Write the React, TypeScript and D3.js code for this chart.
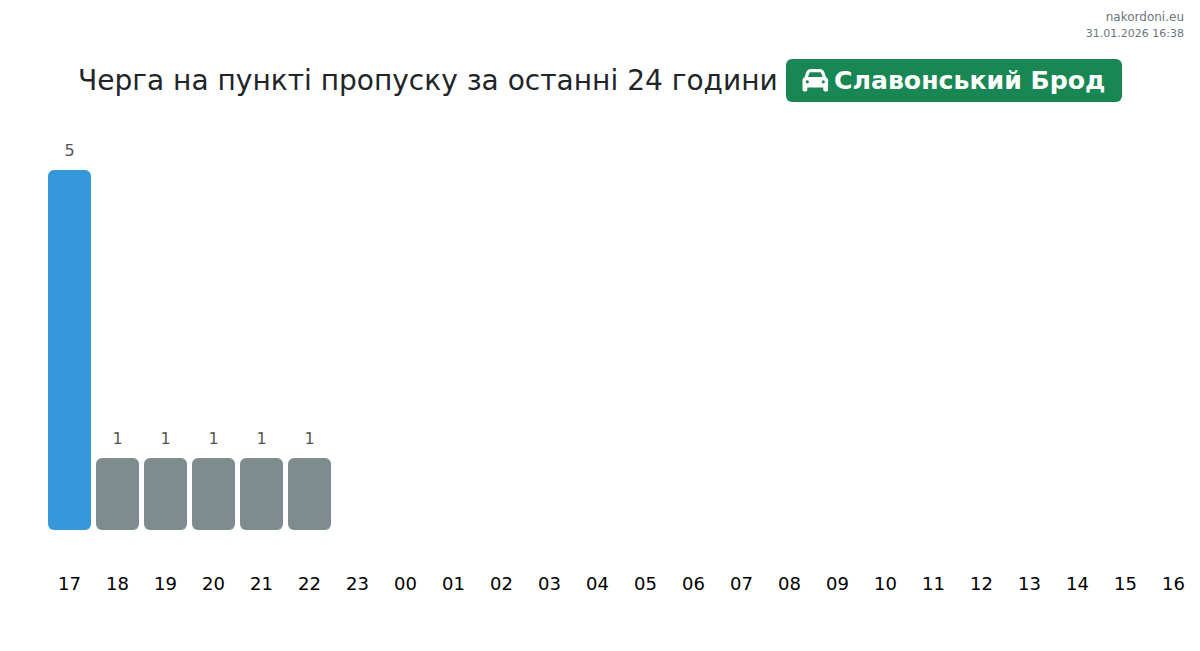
import React from "react";
import * as d3 from "d3";

const hours = ["17","18","19","20","21","22","23","00","01","02","03","04","05","06","07","08","09","10","11","12","13","14","15","16"];
const values = [5,1,1,1,1,1,0,0,0,0,0,0,0,0,0,0,0,0,0,0,0,0,0,0];
const barColors = ["#3498db","#7f8c8d","#7f8c8d","#7f8c8d","#7f8c8d","#7f8c8d"];
const titleText = "Черга на пункті пропуску за останні 24 години";
const badgeText = "Славонський Брод";
const siteText = "nakordoni.eu";
const stampText = "31.01.2026 16:38";

const W = 1200, H = 651;
const FONT = "'DejaVu Sans', sans-serif";
const CAR = "M135.2 117.4L109.1 192H402.9l-26.1-74.6C372.3 104.6 360.2 96 346.6 96H165.4c-13.6 0-25.7 8.6-30.2 21.4zM39.6 196.8L74.8 96.3C88.3 57.8 124.6 32 165.4 32H346.6c40.8 0 77.1 25.8 90.6 64.3l35.2 100.5c23.2 9.6 39.6 32.5 39.6 59.2V400v48c0 17.7-14.3 32-32 32H448c-17.7 0-32-14.3-32-32V400H96v48c0 17.7-14.3 32-32 32H32c-17.7 0-32-14.3-32-32V400 256c0-26.7 16.4-49.6 39.6-59.2zM128 288a32 32 0 1 0 -64 0 32 32 0 1 0 64 0zm288 32a32 32 0 1 0 0-64 32 32 0 1 0 0 64z";

const x = d3.scaleBand<string>().domain(hours).range([45.5, 1197.5]).paddingInner(5 / 48).paddingOuter(2.5 / 48);
const y = d3.scaleLinear().domain([0, 5]).range([530, 170]);

export default function App() {
  return (
    <svg width={W} height={H} viewBox={`0 0 ${W} ${H}`} style={{ position: "absolute", left: 0, top: 0, background: "#fff" }}>
      <text x={1184} y={21} textAnchor="end" fontFamily={FONT} fontSize={12} fill="#6c757d">{siteText}</text>
      <text x={1184} y={37} textAnchor="end" fontFamily={FONT} fontSize={11} fill="#6c757d">{stampText}</text>
      <text x={78} y={90} fontFamily={FONT} fontSize={28.04} fill="#212529">{titleText}</text>
      <rect x={786} y={59} width={336} height={43} rx={6} fill="#198754" />
      <path d={CAR} fill="#fff" transform="translate(802.5,67.4) scale(0.05)" />
      <text x={834} y={89} fontFamily={FONT} fontSize={25.2} fontWeight={700} fill="#fff">{badgeText}</text>
      {values.map((v, i) => v > 0 && (
        <g key={hours[i]}>
          <rect x={x(hours[i])} y={y(v)} width={x.bandwidth()} height={y(0) - y(v)} rx={6} fill={barColors[i]} />
          <text x={x(hours[i])! + x.bandwidth() / 2} y={y(v) - 14} textAnchor="middle" fontFamily={FONT} fontSize={16} fill="#555">{v}</text>
        </g>
      ))}
      {hours.map(h => (
        <text key={h} x={x(h)! + x.bandwidth() / 2} y={590} textAnchor="middle" fontFamily={FONT} fontSize={18} fill="#000">{h}</text>
      ))}
    </svg>
  );
}
